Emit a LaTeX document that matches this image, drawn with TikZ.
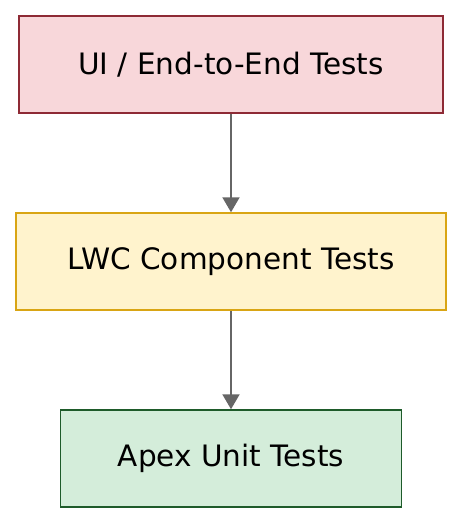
\documentclass[tikz,border=0pt]{standalone}
\usepackage{fontspec}
\setmainfont{DejaVu Sans}
\usepackage{xcolor}
\usetikzlibrary{arrows.meta,positioning}

\definecolor{uifill}{HTML}{F8D7DA}
\definecolor{uidraw}{HTML}{8E2A35}
\definecolor{lwcfill}{HTML}{FFF3CD}
\definecolor{lwcdraw}{HTML}{D9A514}
\definecolor{apexfill}{HTML}{D4EDDA}
\definecolor{apexdraw}{HTML}{1E5B2A}
\definecolor{arrowgray}{HTML}{666666}

\begin{document}
\begin{tikzpicture}[x=1pt,y=-1pt,
  tier/.style={draw, line width=1.5pt, minimum height=97pt, inner sep=0pt,
    font=\fontsize{29.5}{35}\selectfont},
  flow/.style={draw=arrowgray, line width=2pt, -{Triangle[length=15pt,width=17pt]}}]

\useasboundingbox (0,0) rectangle (464,525);

\node[tier, fill=uifill, draw=uidraw, minimum width=424pt] (ui) at (231,64.5) {UI / End-to-End Tests};
\node[tier, fill=lwcfill, draw=lwcdraw, minimum width=430pt] (lwc) at (231,261.5) {LWC Component Tests};
\node[tier, fill=apexfill, draw=apexdraw, minimum width=341pt] (apex) at (231,458.5) {Apex Unit Tests};

\draw[flow] (ui) -- (lwc);
\draw[flow] (lwc) -- (apex);

\end{tikzpicture}
\end{document}
